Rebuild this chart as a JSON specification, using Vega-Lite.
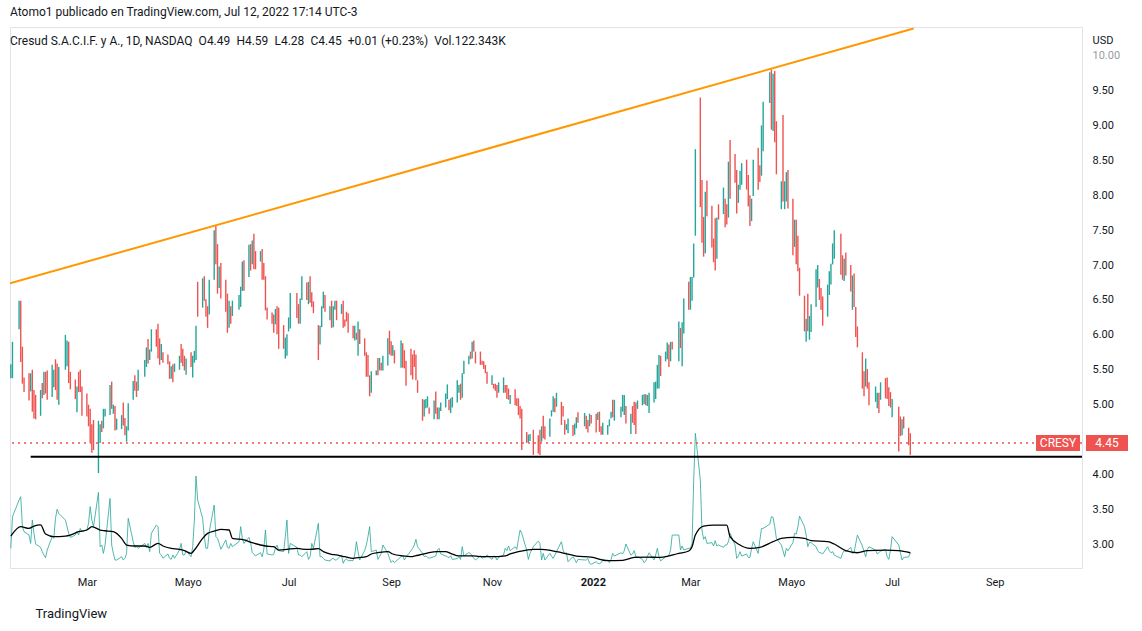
{
"$schema":"https://vega.github.io/schema/vega-lite/v6.json",
"width":1072,"height":541,"autosize":"none",
"padding":{"left":10,"top":27,"right":60,"bottom":63},
"background":"white",
"title":{"text":"Atomo1 publicado en TradingView.com, Jul 12, 2022 17:14 UTC-3","subtitle":"\u2002Cresud S.A.C.I.F. y A., 1D, NASDAQ\u2002O4.49\u2002H4.59\u2002L4.28\u2002C4.45\u2002+0.01 (+0.23%)\u2002Vol.122.343K","anchor":"start","frame":"group","offset":-21,"subtitlePadding":17,"fontSize":12,"fontWeight":"normal","color":"#131722","subtitleFontSize":12,"subtitleColor":"#131722","font":"Roboto","subtitleFont":"Roboto"},
"datasets":{
"ohlc":[
{"d":"2021-01-14","o":5.43,"h":5.58,"l":5.38,"c":5.54,"v":160},
{"d":"2021-01-15","o":5.51,"h":5.90,"l":5.38,"c":5.80,"v":417},
{"d":"2021-01-19","o":6.18,"h":6.49,"l":6.08,"c":6.41,"v":553},
{"d":"2021-01-20","o":6.31,"h":6.49,"l":5.61,"c":5.83,"v":580},
{"d":"2021-01-21","o":5.72,"h":5.83,"l":5.30,"c":5.43,"v":336},
{"d":"2021-01-22","o":5.35,"h":5.39,"l":5.18,"c":5.23,"v":295},
{"d":"2021-01-25","o":5.37,"h":5.45,"l":5.06,"c":5.16,"v":268},
{"d":"2021-01-26","o":5.26,"h":5.45,"l":5.19,"c":5.40,"v":200},
{"d":"2021-01-27","o":5.38,"h":5.50,"l":4.90,"c":5.05,"v":390},
{"d":"2021-01-28","o":5.13,"h":5.21,"l":4.80,"c":4.90,"v":282},
{"d":"2021-01-29","o":5.07,"h":5.14,"l":4.79,"c":4.88,"v":195},
{"d":"2021-02-01","o":4.93,"h":5.21,"l":4.84,"c":5.14,"v":168},
{"d":"2021-02-02","o":5.27,"h":5.31,"l":5.09,"c":5.15,"v":133},
{"d":"2021-02-03","o":5.22,"h":5.47,"l":5.14,"c":5.40,"v":106},
{"d":"2021-02-04","o":5.41,"h":5.47,"l":5.16,"c":5.24,"v":84},
{"d":"2021-02-05","o":5.41,"h":5.49,"l":5.07,"c":5.18,"v":146},
{"d":"2021-02-08","o":5.23,"h":5.57,"l":5.11,"c":5.48,"v":255},
{"d":"2021-02-09","o":5.31,"h":5.50,"l":5.25,"c":5.45,"v":241},
{"d":"2021-02-10","o":5.56,"h":5.65,"l":5.21,"c":5.32,"v":404},
{"d":"2021-02-11","o":5.49,"h":5.59,"l":5.07,"c":5.20,"v":477},
{"d":"2021-02-12","o":5.14,"h":5.54,"l":5.00,"c":5.43,"v":444},
{"d":"2021-02-16","o":5.62,"h":6.00,"l":5.50,"c":5.90,"v":390},
{"d":"2021-02-17","o":5.64,"h":5.92,"l":5.55,"c":5.85,"v":336},
{"d":"2021-02-18","o":5.78,"h":5.90,"l":5.31,"c":5.46,"v":282},
{"d":"2021-02-19","o":5.42,"h":5.47,"l":5.22,"c":5.28,"v":249},
{"d":"2021-02-22","o":5.30,"h":5.36,"l":5.08,"c":5.15,"v":268},
{"d":"2021-02-23","o":4.98,"h":5.26,"l":4.89,"c":5.19,"v":295},
{"d":"2021-02-24","o":5.41,"h":5.47,"l":5.18,"c":5.25,"v":268},
{"d":"2021-02-25","o":5.44,"h":5.50,"l":5.18,"c":5.26,"v":322},
{"d":"2021-02-26","o":5.18,"h":5.26,"l":4.84,"c":4.94,"v":295},
{"d":"2021-03-01","o":5.09,"h":5.16,"l":4.83,"c":4.91,"v":309},
{"d":"2021-03-02","o":4.94,"h":5.00,"l":4.69,"c":4.77,"v":363},
{"d":"2021-03-03","o":4.84,"h":4.94,"l":4.45,"c":4.57,"v":499},
{"d":"2021-03-04","o":4.64,"h":4.72,"l":4.31,"c":4.41,"v":390},
{"d":"2021-03-05","o":4.69,"h":4.78,"l":4.35,"c":4.46,"v":336},
{"d":"2021-03-08","o":4.21,"h":4.77,"l":4.02,"c":4.62,"v":615},
{"d":"2021-03-09","o":4.52,"h":4.72,"l":4.45,"c":4.67,"v":173},
{"d":"2021-03-10","o":4.74,"h":4.77,"l":4.61,"c":4.65,"v":187},
{"d":"2021-03-11","o":4.73,"h":4.94,"l":4.66,"c":4.88,"v":119},
{"d":"2021-03-12","o":4.86,"h":4.94,"l":4.83,"c":4.92,"v":187},
{"d":"2021-03-15","o":4.96,"h":5.28,"l":4.85,"c":5.19,"v":566},
{"d":"2021-03-16","o":5.25,"h":5.33,"l":4.94,"c":5.04,"v":187},
{"d":"2021-03-17","o":4.90,"h":5.00,"l":4.87,"c":4.97,"v":119},
{"d":"2021-03-18","o":4.91,"h":4.98,"l":4.63,"c":4.72,"v":65},
{"d":"2021-03-19","o":4.68,"h":4.80,"l":4.64,"c":4.77,"v":65},
{"d":"2021-03-22","o":4.70,"h":4.85,"l":4.65,"c":4.81,"v":92},
{"d":"2021-03-23","o":4.96,"h":5.03,"l":4.70,"c":4.78,"v":65},
{"d":"2021-03-24","o":4.76,"h":4.81,"l":4.56,"c":4.62,"v":79},
{"d":"2021-03-25","o":4.53,"h":4.69,"l":4.47,"c":4.65,"v":119},
{"d":"2021-03-26","o":4.73,"h":5.02,"l":4.63,"c":4.94,"v":404},
{"d":"2021-03-29","o":5.14,"h":5.34,"l":5.07,"c":5.29,"v":214},
{"d":"2021-03-30","o":5.38,"h":5.42,"l":5.20,"c":5.26,"v":168},
{"d":"2021-03-31","o":5.29,"h":5.33,"l":5.11,"c":5.17,"v":173},
{"d":"2021-04-01","o":5.28,"h":5.50,"l":5.20,"c":5.44,"v":160},
{"d":"2021-04-05","o":5.46,"h":5.64,"l":5.40,"c":5.59,"v":200},
{"d":"2021-04-06","o":5.61,"h":5.82,"l":5.54,"c":5.76,"v":168},
{"d":"2021-04-07","o":5.87,"h":5.94,"l":5.59,"c":5.68,"v":200},
{"d":"2021-04-08","o":5.68,"h":5.79,"l":5.64,"c":5.76,"v":133},
{"d":"2021-04-09","o":5.84,"h":6.08,"l":5.76,"c":6.02,"v":282},
{"d":"2021-04-12","o":6.03,"h":6.08,"l":5.83,"c":5.89,"v":350},
{"d":"2021-04-13","o":6.06,"h":6.16,"l":5.66,"c":5.79,"v":336},
{"d":"2021-04-14","o":5.87,"h":5.95,"l":5.57,"c":5.67,"v":119},
{"d":"2021-04-15","o":5.70,"h":5.87,"l":5.64,"c":5.82,"v":106},
{"d":"2021-04-16","o":5.72,"h":5.75,"l":5.60,"c":5.64,"v":79},
{"d":"2021-04-19","o":5.69,"h":5.72,"l":5.58,"c":5.62,"v":114},
{"d":"2021-04-20","o":5.57,"h":5.62,"l":5.37,"c":5.43,"v":79},
{"d":"2021-04-21","o":5.42,"h":5.55,"l":5.37,"c":5.51,"v":70},
{"d":"2021-04-22","o":5.53,"h":5.58,"l":5.32,"c":5.38,"v":106},
{"d":"2021-04-23","o":5.50,"h":5.59,"l":5.47,"c":5.57,"v":79},
{"d":"2021-04-26","o":5.55,"h":5.70,"l":5.50,"c":5.66,"v":146},
{"d":"2021-04-27","o":5.82,"h":5.87,"l":5.60,"c":5.67,"v":200},
{"d":"2021-04-28","o":5.75,"h":5.80,"l":5.55,"c":5.61,"v":106},
{"d":"2021-04-29","o":5.66,"h":5.70,"l":5.49,"c":5.54,"v":106},
{"d":"2021-04-30","o":5.49,"h":5.66,"l":5.43,"c":5.61,"v":141},
{"d":"2021-05-03","o":5.71,"h":5.75,"l":5.54,"c":5.59,"v":92},
{"d":"2021-05-04","o":5.47,"h":5.70,"l":5.39,"c":5.64,"v":173},
{"d":"2021-05-05","o":5.64,"h":5.77,"l":5.60,"c":5.74,"v":390},
{"d":"2021-05-06","o":5.76,"h":6.13,"l":5.64,"c":6.03,"v":748},
{"d":"2021-05-07","o":6.66,"h":6.76,"l":6.26,"c":6.39,"v":553},
{"d":"2021-05-10","o":6.50,"h":6.81,"l":6.39,"c":6.73,"v":404},
{"d":"2021-05-11","o":6.77,"h":6.84,"l":6.49,"c":6.58,"v":255},
{"d":"2021-05-12","o":6.46,"h":6.51,"l":6.26,"c":6.32,"v":160},
{"d":"2021-05-13","o":6.35,"h":6.41,"l":6.10,"c":6.18,"v":160},
{"d":"2021-05-14","o":6.42,"h":6.79,"l":6.29,"c":6.69,"v":295},
{"d":"2021-05-17","o":6.97,"h":7.50,"l":6.79,"c":7.36,"v":512},
{"d":"2021-05-18","o":7.45,"h":7.56,"l":7.01,"c":7.15,"v":255},
{"d":"2021-05-19","o":7.16,"h":7.30,"l":6.59,"c":6.77,"v":241},
{"d":"2021-05-20","o":6.75,"h":6.98,"l":6.67,"c":6.92,"v":200},
{"d":"2021-05-21","o":6.93,"h":7.03,"l":6.52,"c":6.65,"v":152},
{"d":"2021-05-24","o":6.70,"h":6.79,"l":6.33,"c":6.45,"v":228},
{"d":"2021-05-25","o":6.48,"h":6.59,"l":6.03,"c":6.17,"v":168},
{"d":"2021-05-26","o":6.20,"h":6.49,"l":6.10,"c":6.41,"v":160},
{"d":"2021-05-27","o":6.36,"h":6.41,"l":6.16,"c":6.22,"v":200},
{"d":"2021-05-28","o":6.33,"h":6.49,"l":6.27,"c":6.45,"v":173},
{"d":"2021-06-01","o":6.41,"h":6.57,"l":6.36,"c":6.53,"v":214},
{"d":"2021-06-02","o":6.47,"h":6.69,"l":6.40,"c":6.63,"v":336},
{"d":"2021-06-03","o":6.74,"h":7.05,"l":6.63,"c":6.97,"v":241},
{"d":"2021-06-04","o":6.98,"h":7.07,"l":6.63,"c":6.74,"v":200},
{"d":"2021-06-07","o":6.95,"h":7.29,"l":6.83,"c":7.20,"v":249},
{"d":"2021-06-08","o":7.22,"h":7.30,"l":6.92,"c":7.02,"v":206},
{"d":"2021-06-09","o":7.10,"h":7.35,"l":7.01,"c":7.28,"v":125},
{"d":"2021-06-10","o":7.35,"h":7.45,"l":6.94,"c":7.07,"v":114},
{"d":"2021-06-11","o":7.15,"h":7.20,"l":6.94,"c":7.01,"v":98},
{"d":"2021-06-14","o":7.09,"h":7.20,"l":7.05,"c":7.17,"v":125},
{"d":"2021-06-15","o":7.14,"h":7.23,"l":6.79,"c":6.90,"v":92},
{"d":"2021-06-16","o":6.98,"h":7.03,"l":6.79,"c":6.85,"v":152},
{"d":"2021-06-17","o":6.74,"h":6.84,"l":6.35,"c":6.47,"v":309},
{"d":"2021-06-18","o":6.36,"h":6.39,"l":6.22,"c":6.26,"v":114},
{"d":"2021-06-21","o":6.29,"h":6.32,"l":6.16,"c":6.20,"v":106},
{"d":"2021-06-22","o":6.24,"h":6.29,"l":6.03,"c":6.10,"v":111},
{"d":"2021-06-23","o":6.21,"h":6.37,"l":6.15,"c":6.33,"v":160},
{"d":"2021-06-24","o":6.33,"h":6.41,"l":6.01,"c":6.11,"v":187},
{"d":"2021-06-25","o":6.27,"h":6.39,"l":5.80,"c":5.95,"v":141},
{"d":"2021-06-28","o":6.07,"h":6.14,"l":5.80,"c":5.89,"v":133},
{"d":"2021-06-29","o":5.74,"h":5.96,"l":5.66,"c":5.90,"v":255},
{"d":"2021-06-30","o":5.78,"h":6.01,"l":5.70,"c":5.95,"v":390},
{"d":"2021-07-01","o":6.10,"h":6.25,"l":6.05,"c":6.21,"v":119},
{"d":"2021-07-02","o":6.22,"h":6.60,"l":6.09,"c":6.50,"v":200},
{"d":"2021-07-06","o":6.53,"h":6.60,"l":6.24,"c":6.33,"v":168},
{"d":"2021-07-07","o":6.38,"h":6.44,"l":6.16,"c":6.23,"v":106},
{"d":"2021-07-08","o":6.25,"h":6.52,"l":6.16,"c":6.45,"v":106},
{"d":"2021-07-09","o":6.59,"h":6.84,"l":6.50,"c":6.77,"v":92},
{"d":"2021-07-12","o":6.70,"h":6.75,"l":6.50,"c":6.56,"v":133},
{"d":"2021-07-13","o":6.52,"h":6.76,"l":6.44,"c":6.70,"v":70},
{"d":"2021-07-14","o":6.76,"h":6.84,"l":6.46,"c":6.56,"v":92},
{"d":"2021-07-15","o":6.57,"h":6.61,"l":6.40,"c":6.45,"v":200},
{"d":"2021-07-16","o":6.45,"h":6.48,"l":6.31,"c":6.35,"v":160},
{"d":"2021-07-19","o":6.04,"h":6.14,"l":5.64,"c":5.77,"v":363},
{"d":"2021-07-20","o":5.93,"h":6.13,"l":5.86,"c":6.08,"v":92},
{"d":"2021-07-21","o":6.19,"h":6.41,"l":6.11,"c":6.35,"v":92},
{"d":"2021-07-22","o":6.44,"h":6.62,"l":6.38,"c":6.57,"v":79},
{"d":"2021-07-23","o":6.52,"h":6.57,"l":6.33,"c":6.39,"v":65},
{"d":"2021-07-26","o":6.26,"h":6.41,"l":6.21,"c":6.37,"v":57},
{"d":"2021-07-27","o":6.41,"h":6.49,"l":6.10,"c":6.20,"v":73},
{"d":"2021-07-28","o":6.19,"h":6.41,"l":6.11,"c":6.35,"v":79},
{"d":"2021-07-29","o":6.39,"h":6.49,"l":6.36,"c":6.46,"v":65},
{"d":"2021-07-30","o":6.43,"h":6.49,"l":6.21,"c":6.28,"v":65},
{"d":"2021-08-02","o":6.34,"h":6.44,"l":6.30,"c":6.41,"v":106},
{"d":"2021-08-03","o":6.41,"h":6.49,"l":6.10,"c":6.20,"v":38},
{"d":"2021-08-04","o":6.20,"h":6.22,"l":6.12,"c":6.15,"v":65},
{"d":"2021-08-05","o":6.30,"h":6.33,"l":6.19,"c":6.23,"v":73},
{"d":"2021-08-06","o":6.25,"h":6.31,"l":6.03,"c":6.10,"v":60},
{"d":"2021-08-09","o":6.09,"h":6.13,"l":5.95,"c":6.00,"v":60},
{"d":"2021-08-10","o":5.97,"h":6.13,"l":5.92,"c":6.09,"v":106},
{"d":"2021-08-11","o":6.01,"h":6.03,"l":5.93,"c":5.96,"v":214},
{"d":"2021-08-12","o":5.82,"h":6.19,"l":5.70,"c":6.09,"v":133},
{"d":"2021-08-13","o":6.04,"h":6.08,"l":5.87,"c":5.92,"v":65},
{"d":"2021-08-16","o":5.90,"h":5.95,"l":5.70,"c":5.76,"v":141},
{"d":"2021-08-17","o":5.68,"h":5.75,"l":5.40,"c":5.49,"v":187},
{"d":"2021-08-18","o":5.65,"h":5.71,"l":5.40,"c":5.48,"v":255},
{"d":"2021-08-19","o":5.36,"h":5.42,"l":5.12,"c":5.20,"v":336},
{"d":"2021-08-20","o":5.25,"h":5.48,"l":5.17,"c":5.42,"v":133},
{"d":"2021-08-23","o":5.44,"h":5.49,"l":5.42,"c":5.48,"v":146},
{"d":"2021-08-24","o":5.62,"h":5.67,"l":5.42,"c":5.48,"v":70},
{"d":"2021-08-25","o":5.54,"h":5.67,"l":5.49,"c":5.63,"v":92},
{"d":"2021-08-26","o":5.58,"h":5.60,"l":5.49,"c":5.52,"v":119},
{"d":"2021-08-27","o":5.54,"h":5.70,"l":5.49,"c":5.66,"v":187},
{"d":"2021-08-30","o":5.66,"h":5.95,"l":5.56,"c":5.87,"v":119},
{"d":"2021-08-31","o":5.99,"h":6.06,"l":5.72,"c":5.81,"v":79},
{"d":"2021-09-01","o":5.87,"h":5.91,"l":5.70,"c":5.75,"v":45},
{"d":"2021-09-02","o":5.74,"h":5.85,"l":5.70,"c":5.82,"v":60},
{"d":"2021-09-03","o":5.74,"h":5.78,"l":5.59,"c":5.64,"v":43},
{"d":"2021-09-07","o":5.63,"h":5.92,"l":5.53,"c":5.84,"v":92},
{"d":"2021-09-08","o":5.81,"h":5.88,"l":5.53,"c":5.62,"v":100},
{"d":"2021-09-09","o":5.73,"h":5.78,"l":5.52,"c":5.59,"v":65},
{"d":"2021-09-10","o":5.56,"h":5.63,"l":5.27,"c":5.36,"v":87},
{"d":"2021-09-13","o":5.72,"h":5.80,"l":5.42,"c":5.52,"v":141},
{"d":"2021-09-14","o":5.65,"h":5.72,"l":5.36,"c":5.45,"v":160},
{"d":"2021-09-15","o":5.73,"h":5.78,"l":5.54,"c":5.60,"v":187},
{"d":"2021-09-16","o":5.65,"h":5.72,"l":5.35,"c":5.44,"v":233},
{"d":"2021-09-17","o":5.31,"h":5.35,"l":5.17,"c":5.22,"v":173},
{"d":"2021-09-20","o":5.02,"h":5.08,"l":4.77,"c":4.85,"v":119},
{"d":"2021-09-21","o":4.89,"h":5.07,"l":4.83,"c":5.02,"v":92},
{"d":"2021-09-22","o":4.98,"h":5.08,"l":4.95,"c":5.05,"v":98},
{"d":"2021-09-23","o":5.00,"h":5.12,"l":4.96,"c":5.09,"v":87},
{"d":"2021-09-24","o":4.94,"h":4.96,"l":4.87,"c":4.89,"v":79},
{"d":"2021-09-27","o":4.86,"h":5.06,"l":4.79,"c":5.01,"v":92},
{"d":"2021-09-28","o":5.13,"h":5.19,"l":4.87,"c":4.95,"v":98},
{"d":"2021-09-29","o":4.93,"h":4.96,"l":4.79,"c":4.83,"v":146},
{"d":"2021-09-30","o":4.83,"h":4.96,"l":4.79,"c":4.93,"v":160},
{"d":"2021-10-01","o":4.94,"h":5.03,"l":4.91,"c":5.01,"v":114},
{"d":"2021-10-04","o":5.01,"h":5.16,"l":4.96,"c":5.12,"v":98},
{"d":"2021-10-05","o":5.13,"h":5.29,"l":5.08,"c":5.25,"v":92},
{"d":"2021-10-06","o":5.04,"h":5.07,"l":4.92,"c":4.96,"v":84},
{"d":"2021-10-07","o":4.93,"h":5.09,"l":4.88,"c":5.05,"v":100},
{"d":"2021-10-08","o":5.00,"h":5.11,"l":4.96,"c":5.08,"v":70},
{"d":"2021-10-11","o":5.11,"h":5.35,"l":5.03,"c":5.29,"v":76},
{"d":"2021-10-12","o":5.20,"h":5.28,"l":5.17,"c":5.26,"v":92},
{"d":"2021-10-13","o":5.25,"h":5.30,"l":5.07,"c":5.13,"v":70},
{"d":"2021-10-14","o":5.19,"h":5.45,"l":5.10,"c":5.38,"v":173},
{"d":"2021-10-15","o":5.49,"h":5.63,"l":5.44,"c":5.59,"v":98},
{"d":"2021-10-18","o":5.61,"h":5.70,"l":5.58,"c":5.68,"v":125},
{"d":"2021-10-19","o":5.74,"h":5.76,"l":5.65,"c":5.68,"v":119},
{"d":"2021-10-20","o":5.72,"h":5.90,"l":5.66,"c":5.85,"v":98},
{"d":"2021-10-21","o":5.89,"h":5.92,"l":5.76,"c":5.80,"v":79},
{"d":"2021-10-22","o":5.73,"h":5.76,"l":5.59,"c":5.63,"v":65},
{"d":"2021-10-25","o":5.72,"h":5.76,"l":5.57,"c":5.62,"v":100},
{"d":"2021-10-26","o":5.62,"h":5.63,"l":5.57,"c":5.59,"v":79},
{"d":"2021-10-27","o":5.60,"h":5.62,"l":5.51,"c":5.54,"v":87},
{"d":"2021-10-28","o":5.55,"h":5.57,"l":5.45,"c":5.48,"v":87},
{"d":"2021-10-29","o":5.44,"h":5.47,"l":5.30,"c":5.34,"v":106},
{"d":"2021-11-01","o":5.32,"h":5.42,"l":5.28,"c":5.39,"v":70},
{"d":"2021-11-02","o":5.29,"h":5.30,"l":5.23,"c":5.25,"v":98},
{"d":"2021-11-03","o":5.28,"h":5.30,"l":5.20,"c":5.23,"v":92},
{"d":"2021-11-04","o":5.24,"h":5.28,"l":5.10,"c":5.14,"v":65},
{"d":"2021-11-05","o":5.21,"h":5.32,"l":5.17,"c":5.29,"v":87},
{"d":"2021-11-08","o":5.23,"h":5.39,"l":5.17,"c":5.35,"v":106},
{"d":"2021-11-09","o":5.26,"h":5.28,"l":5.17,"c":5.20,"v":160},
{"d":"2021-11-10","o":5.24,"h":5.28,"l":5.08,"c":5.13,"v":141},
{"d":"2021-11-11","o":5.20,"h":5.23,"l":5.07,"c":5.11,"v":179},
{"d":"2021-11-12","o":5.04,"h":5.14,"l":5.01,"c":5.11,"v":141},
{"d":"2021-11-15","o":5.17,"h":5.22,"l":4.99,"c":5.05,"v":173},
{"d":"2021-11-16","o":5.07,"h":5.09,"l":4.98,"c":5.01,"v":152},
{"d":"2021-11-17","o":5.04,"h":5.09,"l":4.85,"c":4.91,"v":233},
{"d":"2021-11-18","o":4.94,"h":4.98,"l":4.80,"c":4.85,"v":309},
{"d":"2021-11-19","o":4.82,"h":4.94,"l":4.35,"c":4.50,"v":282},
{"d":"2021-11-22","o":4.58,"h":4.61,"l":4.45,"c":4.49,"v":146},
{"d":"2021-11-23","o":4.49,"h":4.57,"l":4.46,"c":4.55,"v":70},
{"d":"2021-11-24","o":4.51,"h":4.58,"l":4.48,"c":4.56,"v":119},
{"d":"2021-11-26","o":4.57,"h":4.64,"l":4.28,"c":4.37,"v":173},
{"d":"2021-11-29","o":4.51,"h":4.56,"l":4.30,"c":4.37,"v":219},
{"d":"2021-11-30","o":4.57,"h":4.64,"l":4.28,"c":4.37,"v":200},
{"d":"2021-12-01","o":4.53,"h":4.69,"l":4.47,"c":4.65,"v":65},
{"d":"2021-12-02","o":4.78,"h":4.84,"l":4.52,"c":4.60,"v":119},
{"d":"2021-12-03","o":4.65,"h":4.69,"l":4.50,"c":4.55,"v":65},
{"d":"2021-12-06","o":4.60,"h":4.80,"l":4.54,"c":4.75,"v":119},
{"d":"2021-12-07","o":4.85,"h":4.92,"l":4.83,"c":4.90,"v":97},
{"d":"2021-12-08","o":4.95,"h":5.12,"l":4.90,"c":5.08,"v":78},
{"d":"2021-12-09","o":5.05,"h":5.09,"l":4.89,"c":4.94,"v":105},
{"d":"2021-12-10","o":5.02,"h":5.17,"l":4.97,"c":5.13,"v":133},
{"d":"2021-12-13","o":4.97,"h":5.04,"l":4.71,"c":4.79,"v":214},
{"d":"2021-12-14","o":4.95,"h":4.98,"l":4.83,"c":4.87,"v":146},
{"d":"2021-12-15","o":4.74,"h":4.78,"l":4.57,"c":4.62,"v":114},
{"d":"2021-12-16","o":4.66,"h":4.72,"l":4.64,"c":4.70,"v":124},
{"d":"2021-12-17","o":4.64,"h":4.80,"l":4.59,"c":4.76,"v":51},
{"d":"2021-12-20","o":4.68,"h":4.71,"l":4.55,"c":4.59,"v":92},
{"d":"2021-12-21","o":4.61,"h":4.73,"l":4.57,"c":4.70,"v":70},
{"d":"2021-12-22","o":4.70,"h":4.82,"l":4.66,"c":4.79,"v":43},
{"d":"2021-12-23","o":4.86,"h":4.89,"l":4.74,"c":4.78,"v":70},
{"d":"2021-12-27","o":4.74,"h":4.88,"l":4.69,"c":4.84,"v":65},
{"d":"2021-12-28","o":4.80,"h":4.84,"l":4.65,"c":4.70,"v":65},
{"d":"2021-12-29","o":4.74,"h":4.78,"l":4.60,"c":4.65,"v":78},
{"d":"2021-12-30","o":4.74,"h":4.87,"l":4.69,"c":4.83,"v":38},
{"d":"2021-12-31","o":4.83,"h":4.85,"l":4.73,"c":4.76,"v":30},
{"d":"2022-01-03","o":4.82,"h":4.87,"l":4.60,"c":4.67,"v":51},
{"d":"2022-01-04","o":4.81,"h":4.89,"l":4.78,"c":4.87,"v":38},
{"d":"2022-01-05","o":4.84,"h":4.90,"l":4.61,"c":4.68,"v":35},
{"d":"2022-01-06","o":4.67,"h":4.69,"l":4.57,"c":4.60,"v":43},
{"d":"2022-01-07","o":4.61,"h":4.74,"l":4.57,"c":4.71,"v":65},
{"d":"2022-01-10","o":4.61,"h":4.71,"l":4.57,"c":4.68,"v":65},
{"d":"2022-01-11","o":4.72,"h":4.79,"l":4.69,"c":4.77,"v":43},
{"d":"2022-01-12","o":4.83,"h":4.90,"l":4.80,"c":4.88,"v":70},
{"d":"2022-01-13","o":5.02,"h":5.07,"l":4.82,"c":4.88,"v":119},
{"d":"2022-01-14","o":4.85,"h":5.07,"l":4.77,"c":5.01,"v":97},
{"d":"2022-01-18","o":4.86,"h":4.97,"l":4.82,"c":4.94,"v":124},
{"d":"2022-01-19","o":4.96,"h":5.14,"l":4.90,"c":5.09,"v":114},
{"d":"2022-01-20","o":4.92,"h":5.14,"l":4.85,"c":5.08,"v":141},
{"d":"2022-01-21","o":4.93,"h":4.98,"l":4.73,"c":4.79,"v":195},
{"d":"2022-01-24","o":4.65,"h":4.87,"l":4.58,"c":4.81,"v":105},
{"d":"2022-01-25","o":4.93,"h":4.98,"l":4.74,"c":4.80,"v":114},
{"d":"2022-01-26","o":4.97,"h":5.04,"l":4.71,"c":4.79,"v":141},
{"d":"2022-01-27","o":4.94,"h":5.03,"l":4.58,"c":4.69,"v":92},
{"d":"2022-01-28","o":4.97,"h":5.06,"l":4.94,"c":5.04,"v":92},
{"d":"2022-01-31","o":5.03,"h":5.14,"l":4.99,"c":5.11,"v":70},
{"d":"2022-02-01","o":5.05,"h":5.15,"l":5.01,"c":5.12,"v":43},
{"d":"2022-02-02","o":5.12,"h":5.15,"l":4.99,"c":5.03,"v":57},
{"d":"2022-02-03","o":5.02,"h":5.14,"l":4.98,"c":5.11,"v":92},
{"d":"2022-02-04","o":4.95,"h":5.17,"l":4.88,"c":5.11,"v":124},
{"d":"2022-02-07","o":5.10,"h":5.32,"l":5.03,"c":5.26,"v":65},
{"d":"2022-02-08","o":5.14,"h":5.33,"l":5.08,"c":5.28,"v":105},
{"d":"2022-02-09","o":5.31,"h":5.57,"l":5.23,"c":5.50,"v":160},
{"d":"2022-02-10","o":5.35,"h":5.71,"l":5.23,"c":5.61,"v":92},
{"d":"2022-02-11","o":5.64,"h":5.70,"l":5.41,"c":5.48,"v":57},
{"d":"2022-02-14","o":5.66,"h":5.76,"l":5.62,"c":5.73,"v":92},
{"d":"2022-02-15","o":5.71,"h":5.89,"l":5.65,"c":5.84,"v":92},
{"d":"2022-02-16","o":5.80,"h":5.86,"l":5.54,"c":5.62,"v":105},
{"d":"2022-02-17","o":5.69,"h":5.90,"l":5.62,"c":5.84,"v":146},
{"d":"2022-02-18","o":5.88,"h":5.90,"l":5.79,"c":5.82,"v":268},
{"d":"2022-02-22","o":5.76,"h":6.19,"l":5.62,"c":6.08,"v":268},
{"d":"2022-02-23","o":6.04,"h":6.10,"l":5.81,"c":5.88,"v":146},
{"d":"2022-02-24","o":5.71,"h":6.18,"l":5.55,"c":6.05,"v":179},
{"d":"2022-02-25","o":6.15,"h":6.52,"l":6.02,"c":6.42,"v":146},
{"d":"2022-02-28","o":6.68,"h":6.76,"l":6.36,"c":6.46,"v":160},
{"d":"2022-03-01","o":6.48,"h":6.83,"l":6.36,"c":6.74,"v":160},
{"d":"2022-03-02","o":6.58,"h":6.83,"l":6.49,"c":6.76,"v":200},
{"d":"2022-03-03","o":6.94,"h":7.31,"l":6.82,"c":7.21,"v":715},
{"d":"2022-03-04","o":7.73,"h":8.66,"l":7.42,"c":8.41,"v":1095},
{"d":"2022-03-07","o":9.09,"h":9.40,"l":7.83,"c":8.22,"v":715},
{"d":"2022-03-08","o":8.04,"h":8.22,"l":7.32,"c":7.54,"v":309},
{"d":"2022-03-09","o":7.58,"h":7.69,"l":7.12,"c":7.26,"v":233},
{"d":"2022-03-10","o":7.39,"h":8.05,"l":7.17,"c":7.87,"v":255},
{"d":"2022-03-11","o":8.11,"h":8.21,"l":7.70,"c":7.83,"v":200},
{"d":"2022-03-14","o":7.73,"h":7.85,"l":7.25,"c":7.40,"v":206},
{"d":"2022-03-15","o":7.31,"h":7.38,"l":7.04,"c":7.13,"v":179},
{"d":"2022-03-16","o":7.52,"h":7.67,"l":6.92,"c":7.11,"v":222},
{"d":"2022-03-17","o":7.24,"h":7.68,"l":7.09,"c":7.56,"v":179},
{"d":"2022-03-18","o":7.83,"h":7.87,"l":7.65,"c":7.71,"v":187},
{"d":"2022-03-21","o":7.83,"h":8.11,"l":7.73,"c":8.03,"v":168},
{"d":"2022-03-22","o":7.87,"h":7.95,"l":7.54,"c":7.64,"v":187},
{"d":"2022-03-23","o":7.81,"h":7.87,"l":7.58,"c":7.65,"v":187},
{"d":"2022-03-24","o":7.88,"h":8.48,"l":7.68,"c":8.32,"v":214},
{"d":"2022-03-25","o":8.62,"h":8.79,"l":7.95,"c":8.16,"v":282},
{"d":"2022-03-28","o":8.51,"h":8.59,"l":8.18,"c":8.28,"v":187},
{"d":"2022-03-29","o":8.24,"h":8.36,"l":7.74,"c":7.90,"v":78},
{"d":"2022-03-30","o":7.96,"h":8.15,"l":7.89,"c":8.10,"v":97},
{"d":"2022-03-31","o":8.15,"h":8.35,"l":8.08,"c":8.30,"v":133},
{"d":"2022-04-01","o":8.23,"h":8.46,"l":8.15,"c":8.40,"v":97},
{"d":"2022-04-04","o":8.42,"h":8.51,"l":8.08,"c":8.19,"v":114},
{"d":"2022-04-05","o":8.20,"h":8.29,"l":7.84,"c":7.95,"v":86},
{"d":"2022-04-06","o":7.91,"h":8.00,"l":7.56,"c":7.67,"v":86},
{"d":"2022-04-07","o":7.71,"h":7.95,"l":7.63,"c":7.89,"v":160},
{"d":"2022-04-08","o":8.12,"h":8.51,"l":7.99,"c":8.41,"v":214},
{"d":"2022-04-11","o":8.56,"h":8.68,"l":8.08,"c":8.23,"v":119},
{"d":"2022-04-12","o":8.38,"h":8.43,"l":8.19,"c":8.25,"v":227},
{"d":"2022-04-13","o":8.46,"h":9.00,"l":8.28,"c":8.86,"v":322},
{"d":"2022-04-14","o":8.81,"h":9.34,"l":8.63,"c":9.20,"v":322},
{"d":"2022-04-18","o":9.43,"h":9.76,"l":9.32,"c":9.67,"v":357},
{"d":"2022-04-19","o":9.63,"h":9.80,"l":8.94,"c":9.16,"v":417},
{"d":"2022-04-20","o":9.13,"h":9.74,"l":8.92,"c":9.58,"v":412},
{"d":"2022-04-21","o":9.58,"h":9.78,"l":8.76,"c":9.02,"v":336},
{"d":"2022-04-22","o":8.91,"h":9.06,"l":8.30,"c":8.49,"v":241},
{"d":"2022-04-25","o":7.90,"h":8.20,"l":7.80,"c":8.12,"v":187},
{"d":"2022-04-26","o":8.90,"h":9.15,"l":7.91,"c":8.22,"v":141},
{"d":"2022-04-27","o":7.90,"h":8.20,"l":7.80,"c":8.12,"v":92},
{"d":"2022-04-28","o":8.01,"h":8.33,"l":7.91,"c":8.25,"v":160},
{"d":"2022-04-29","o":8.25,"h":8.36,"l":7.81,"c":7.95,"v":141},
{"d":"2022-05-02","o":7.79,"h":7.95,"l":7.14,"c":7.34,"v":206},
{"d":"2022-05-03","o":7.36,"h":7.65,"l":7.26,"c":7.57,"v":282},
{"d":"2022-05-04","o":7.52,"h":7.65,"l":7.01,"c":7.17,"v":276},
{"d":"2022-05-05","o":7.32,"h":7.42,"l":6.91,"c":7.04,"v":336},
{"d":"2022-05-06","o":6.88,"h":6.96,"l":6.56,"c":6.66,"v":422},
{"d":"2022-05-09","o":6.46,"h":6.56,"l":6.05,"c":6.18,"v":336},
{"d":"2022-05-10","o":5.98,"h":6.23,"l":5.90,"c":6.16,"v":268},
{"d":"2022-05-11","o":6.48,"h":6.59,"l":6.05,"c":6.19,"v":173},
{"d":"2022-05-12","o":6.02,"h":6.27,"l":5.93,"c":6.20,"v":208},
{"d":"2022-05-13","o":6.14,"h":6.44,"l":6.04,"c":6.36,"v":206},
{"d":"2022-05-16","o":6.54,"h":6.94,"l":6.40,"c":6.83,"v":173},
{"d":"2022-05-17","o":6.76,"h":7.00,"l":6.68,"c":6.94,"v":141},
{"d":"2022-05-18","o":6.74,"h":6.80,"l":6.50,"c":6.58,"v":124},
{"d":"2022-05-19","o":6.61,"h":6.67,"l":6.36,"c":6.44,"v":124},
{"d":"2022-05-20","o":6.47,"h":6.55,"l":6.13,"c":6.24,"v":114},
{"d":"2022-05-23","o":6.38,"h":6.72,"l":6.26,"c":6.63,"v":173},
{"d":"2022-05-24","o":6.66,"h":6.91,"l":6.57,"c":6.84,"v":141},
{"d":"2022-05-25","o":6.80,"h":7.02,"l":6.72,"c":6.96,"v":124},
{"d":"2022-05-26","o":7.09,"h":7.31,"l":7.01,"c":7.25,"v":133},
{"d":"2022-05-27","o":7.19,"h":7.50,"l":7.09,"c":7.42,"v":105},
{"d":"2022-05-31","o":7.33,"h":7.45,"l":6.86,"c":7.01,"v":78},
{"d":"2022-06-01","o":7.07,"h":7.14,"l":6.79,"c":6.88,"v":119},
{"d":"2022-06-02","o":6.85,"h":7.09,"l":6.77,"c":7.03,"v":141},
{"d":"2022-06-03","o":7.11,"h":7.18,"l":6.85,"c":6.93,"v":133},
{"d":"2022-06-06","o":6.92,"h":7.00,"l":6.62,"c":6.72,"v":168},
{"d":"2022-06-07","o":6.48,"h":6.85,"l":6.36,"c":6.75,"v":119},
{"d":"2022-06-08","o":6.78,"h":6.88,"l":6.40,"c":6.52,"v":124},
{"d":"2022-06-09","o":6.31,"h":6.40,"l":5.97,"c":6.08,"v":200},
{"d":"2022-06-10","o":6.06,"h":6.12,"l":5.82,"c":5.90,"v":268},
{"d":"2022-06-13","o":5.65,"h":5.75,"l":5.23,"c":5.36,"v":179},
{"d":"2022-06-14","o":5.41,"h":5.48,"l":5.12,"c":5.21,"v":133},
{"d":"2022-06-15","o":5.36,"h":5.66,"l":5.26,"c":5.58,"v":92},
{"d":"2022-06-16","o":5.45,"h":5.51,"l":5.23,"c":5.30,"v":151},
{"d":"2022-06-17","o":5.25,"h":5.32,"l":4.99,"c":5.07,"v":173},
{"d":"2022-06-21","o":5.10,"h":5.26,"l":5.04,"c":5.22,"v":146},
{"d":"2022-06-22","o":5.01,"h":5.17,"l":4.95,"c":5.13,"v":114},
{"d":"2022-06-23","o":5.11,"h":5.17,"l":4.88,"c":4.95,"v":124},
{"d":"2022-06-24","o":5.13,"h":5.32,"l":5.07,"c":5.27,"v":138},
{"d":"2022-06-27","o":5.32,"h":5.38,"l":5.09,"c":5.16,"v":151},
{"d":"2022-06-28","o":5.33,"h":5.39,"l":5.08,"c":5.16,"v":92},
{"d":"2022-06-29","o":5.20,"h":5.25,"l":4.98,"c":5.05,"v":70},
{"d":"2022-06-30","o":5.14,"h":5.18,"l":4.96,"c":5.02,"v":146},
{"d":"2022-07-01","o":4.88,"h":5.08,"l":4.82,"c":5.03,"v":255},
{"d":"2022-07-05","o":4.84,"h":4.97,"l":4.33,"c":4.49,"v":187},
{"d":"2022-07-06","o":4.77,"h":4.83,"l":4.55,"c":4.62,"v":124},
{"d":"2022-07-07","o":4.62,"h":4.79,"l":4.56,"c":4.74,"v":65},
{"d":"2022-07-08","o":4.80,"h":4.83,"l":4.66,"c":4.70,"v":86},
{"d":"2022-07-11","o":4.62,"h":4.67,"l":4.42,"c":4.44,"v":90},
{"d":"2022-07-12","o":4.49,"h":4.59,"l":4.28,"c":4.45,"v":122}
],
"ma":[
{"d":"2021-01-14","v":260},{"d":"2021-01-20","v":336},{"d":"2021-01-25","v":322},{"d":"2021-01-28","v":341},{"d":"2021-02-01","v":350},{"d":"2021-02-04","v":276},{"d":"2021-02-09","v":255},{"d":"2021-02-16","v":260},{"d":"2021-02-19","v":268},{"d":"2021-02-24","v":295},{"d":"2021-03-01","v":309},{"d":"2021-03-04","v":336},{"d":"2021-03-09","v":309},{"d":"2021-03-12","v":303},{"d":"2021-03-17","v":295},{"d":"2021-03-22","v":241},{"d":"2021-03-25","v":187},{"d":"2021-03-30","v":179},{"d":"2021-04-05","v":179},{"d":"2021-04-08","v":168},{"d":"2021-04-13","v":200},{"d":"2021-04-16","v":179},{"d":"2021-04-21","v":160},{"d":"2021-04-26","v":152},{"d":"2021-04-29","v":141},{"d":"2021-05-03","v":119},{"d":"2021-05-05","v":146},{"d":"2021-05-10","v":241},{"d":"2021-05-13","v":282},{"d":"2021-05-18","v":303},{"d":"2021-05-21","v":314},{"d":"2021-05-26","v":309},{"d":"2021-05-28","v":241},{"d":"2021-06-04","v":228},{"d":"2021-06-09","v":206},{"d":"2021-06-14","v":187},{"d":"2021-06-17","v":179},{"d":"2021-06-22","v":173},{"d":"2021-06-25","v":146},{"d":"2021-06-30","v":152},{"d":"2021-07-06","v":160},{"d":"2021-07-09","v":154},{"d":"2021-07-14","v":152},{"d":"2021-07-19","v":157},{"d":"2021-07-22","v":133},{"d":"2021-07-27","v":111},{"d":"2021-07-30","v":106},{"d":"2021-08-04","v":92},{"d":"2021-08-09","v":79},{"d":"2021-08-12","v":84},{"d":"2021-08-17","v":92},{"d":"2021-08-20","v":114},{"d":"2021-08-25","v":127},{"d":"2021-08-30","v":133},{"d":"2021-09-02","v":114},{"d":"2021-09-08","v":98},{"d":"2021-09-13","v":92},{"d":"2021-09-16","v":100},{"d":"2021-09-21","v":114},{"d":"2021-09-24","v":125},{"d":"2021-09-29","v":133},{"d":"2021-10-04","v":133},{"d":"2021-10-07","v":119},{"d":"2021-10-12","v":98},{"d":"2021-10-18","v":98},{"d":"2021-10-21","v":98},{"d":"2021-10-26","v":92},{"d":"2021-11-01","v":92},{"d":"2021-11-04","v":92},{"d":"2021-11-09","v":98},{"d":"2021-11-12","v":114},{"d":"2021-11-17","v":133},{"d":"2021-11-22","v":146},{"d":"2021-11-26","v":152},{"d":"2021-12-01","v":152},{"d":"2021-12-07","v":141},{"d":"2021-12-15","v":119},{"d":"2021-12-22","v":97},{"d":"2021-12-31","v":88},{"d":"2022-01-10","v":60},{"d":"2022-01-19","v":62},{"d":"2022-01-26","v":86},{"d":"2022-02-03","v":89},{"d":"2022-02-11","v":86},{"d":"2022-02-22","v":119},{"d":"2022-02-28","v":138},{"d":"2022-03-02","v":173},{"d":"2022-03-04","v":268},{"d":"2022-03-09","v":341},{"d":"2022-03-15","v":349},{"d":"2022-03-23","v":349},{"d":"2022-03-25","v":255},{"d":"2022-03-31","v":187},{"d":"2022-04-06","v":160},{"d":"2022-04-12","v":168},{"d":"2022-04-20","v":214},{"d":"2022-04-25","v":241},{"d":"2022-05-02","v":249},{"d":"2022-05-09","v":241},{"d":"2022-05-13","v":222},{"d":"2022-05-23","v":214},{"d":"2022-05-27","v":195},{"d":"2022-06-03","v":141},{"d":"2022-06-10","v":124},{"d":"2022-06-16","v":141},{"d":"2022-06-27","v":146},{"d":"2022-07-05","v":141},{"d":"2022-07-12","v":124}
],
"trend":[{"d":"2021-01-13T12:00:00Z","p":6.738},{"d":"2022-07-14","p":10.388}],
"support":[{"d":"2021-01-26","p":4.255},{"d":"2022-10-23T20:00:00Z","p":4.255}]
},
"layer":[
{"layer":[
{"data":{"name":"ohlc"},"mark":{"type":"line","strokeWidth":1,"color":"#26a69a","opacity":0.8},
 "encoding":{
  "x":{"field":"d","type":"temporal","title":null,"scale":{"type":"utc","domain":[{"year":2021,"month":1,"date":13,"hours":12,"utc":true},{"year":2022,"month":10,"date":23,"hours":20,"utc":true}]},
   "axis":{"values":[{"year":2021,"month":3,"date":1,"utc":true},{"year":2021,"month":5,"date":1,"utc":true},{"year":2021,"month":7,"date":1,"utc":true},{"year":2021,"month":9,"date":1,"utc":true},{"year":2021,"month":11,"date":1,"utc":true},{"year":2022,"month":1,"date":1,"utc":true},{"year":2022,"month":3,"date":1,"utc":true},{"year":2022,"month":5,"date":1,"utc":true},{"year":2022,"month":7,"date":1,"utc":true},{"year":2022,"month":9,"date":1,"utc":true}],
    "labelExpr":"utcmonth(datum.value)==0 ? utcFormat(datum.value,'%Y') : ['Ene','Feb','Mar','Abr','Mayo','Jun','Jul','Ago','Sep','Oct','Nov','Dic'][utcmonth(datum.value)]",
    "labelFontWeight":{"condition":{"test":"utcmonth(datum.value)==0","value":"bold"},"value":"normal"},
    "labelOverlap":false,"labelFlush":false,"labelPadding":8,"labelFontSize":11,"ticks":false,"grid":false,"domainColor":"#e0e3eb","labelColor":"#131722","title":null}},
  "y":{"field":"v","type":"quantitative","scale":{"domain":[0,4400],"nice":false,"zero":false},
   "axis":{"orient":"left","labels":false,"ticks":false,"domain":false,"grid":false,"title":"TradingView","titleAngle":0,"titleX":25,"titleY":586,"titleAlign":"left","titleBaseline":"middle","titleFontSize":13,"titleFontWeight":"normal","titleColor":"#131722"}}
 }},
{"data":{"name":"ma"},"mark":{"type":"line","strokeWidth":1.3,"color":"#000000","interpolate":"monotone"},
 "encoding":{
  "x":{"field":"d","type":"temporal","title":null,"scale":{"type":"utc","domain":[{"year":2021,"month":1,"date":13,"hours":12,"utc":true},{"year":2022,"month":10,"date":23,"hours":20,"utc":true}]}},
  "y":{"field":"v","type":"quantitative","scale":{"domain":[0,4400],"nice":false,"zero":false},
   "axis":{"orient":"left","labels":false,"ticks":false,"domain":false,"grid":false,"title":"TradingView","titleAngle":0,"titleX":25,"titleY":586,"titleAlign":"left","titleBaseline":"middle","titleFontSize":13,"titleFontWeight":"normal","titleColor":"#131722"}}
 }}
]},
{"layer":[
{"data":{"name":"ohlc"},"mark":{"type":"rule","strokeWidth":1.4},
 "encoding":{
  "x":{"field":"d","type":"temporal","title":null,"scale":{"type":"utc","domain":[{"year":2021,"month":1,"date":13,"hours":12,"utc":true},{"year":2022,"month":10,"date":23,"hours":20,"utc":true}]}},
  "y":{"field":"l","type":"quantitative","scale":{"domain":[2.66,10.41],"nice":false,"zero":false},
   "axis":{"orient":"right","values":[3,3.5,4,5,5.5,6,6.5,7,7.5,8,8.5,9,9.5,10],"format":".2f","labelAlign":"left","labelPadding":10,"labelFontSize":11,"labelColor":"#131722","labelOverlap":false,"labelFlush":false,"labelOpacity":{"condition":{"test":"datum.value >= 10","value":0.45},"value":1},"ticks":false,"grid":false,"domainColor":"#e0e3eb","title":"USD","titleAngle":0,"titleAlign":"left","titleBaseline":"middle","titleX":10,"titleY":13,"titleFontSize":11,"titleFontWeight":"normal","titleColor":"#131722"}},
  "y2":{"field":"h"},
  "color":{"condition":{"test":"datum.c >= datum.o","value":"#26a69a"},"value":"#ef5350"}
 }},
{"data":{"values":[{}]},"mark":{"type":"rule","color":"#ef5350","strokeWidth":1.5,"strokeDash":[2,4]},
 "encoding":{"y":{"datum":4.45,"type":"quantitative","scale":{"domain":[2.66,10.41],"nice":false,"zero":false}}}},
{"data":{"name":"support"},"mark":{"type":"line","color":"#000000","strokeWidth":2,"clip":true},
 "encoding":{
  "x":{"field":"d","type":"temporal","title":null,"scale":{"type":"utc","domain":[{"year":2021,"month":1,"date":13,"hours":12,"utc":true},{"year":2022,"month":10,"date":23,"hours":20,"utc":true}]}},
  "y":{"field":"p","type":"quantitative","scale":{"domain":[2.66,10.41],"nice":false,"zero":false}}}},
{"data":{"name":"trend"},"mark":{"type":"line","color":"#ff9800","strokeWidth":2,"clip":true},
 "encoding":{
  "x":{"field":"d","type":"temporal","title":null,"scale":{"type":"utc","domain":[{"year":2021,"month":1,"date":13,"hours":12,"utc":true},{"year":2022,"month":10,"date":23,"hours":20,"utc":true}]}},
  "y":{"field":"p","type":"quantitative","scale":{"domain":[2.66,10.41],"nice":false,"zero":false}}}},
{"data":{"values":[{}]},"mark":{"type":"point","shape":"M-1,-0.364H1V0.364H-1Z","size":1936,"filled":true,"opacity":1,"color":"#ef5350","strokeWidth":0,"x":{"expr":"width-24"}},
 "encoding":{"y":{"datum":4.45,"type":"quantitative","scale":{"domain":[2.66,10.41],"nice":false,"zero":false}}}},
{"data":{"values":[{}]},"mark":{"type":"text","text":"CRESY","color":"white","fontSize":12,"font":"Roboto","align":"center","baseline":"middle","x":{"expr":"width-24"}},
 "encoding":{"y":{"datum":4.45,"type":"quantitative","scale":{"domain":[2.66,10.41],"nice":false,"zero":false}}}},
{"data":{"values":[{}]},"mark":{"type":"point","shape":"M-1,-0.381H1V0.381H-1Z","size":1764,"filled":true,"opacity":1,"color":"#ef5350","strokeWidth":0,"x":{"expr":"width+25"}},
 "encoding":{"y":{"datum":4.45,"type":"quantitative","scale":{"domain":[2.66,10.41],"nice":false,"zero":false}}}},
{"data":{"values":[{}]},"mark":{"type":"text","text":"4.45","color":"white","fontSize":12,"font":"Roboto","align":"center","baseline":"middle","x":{"expr":"width+25"}},
 "encoding":{"y":{"datum":4.45,"type":"quantitative","scale":{"domain":[2.66,10.41],"nice":false,"zero":false}}}}
]}
],
"resolve":{"scale":{"y":"independent"}},
"config":{"font":"Roboto","view":{"stroke":"#e0e3eb"},"axis":{"grid":false,"ticks":false}}
}
